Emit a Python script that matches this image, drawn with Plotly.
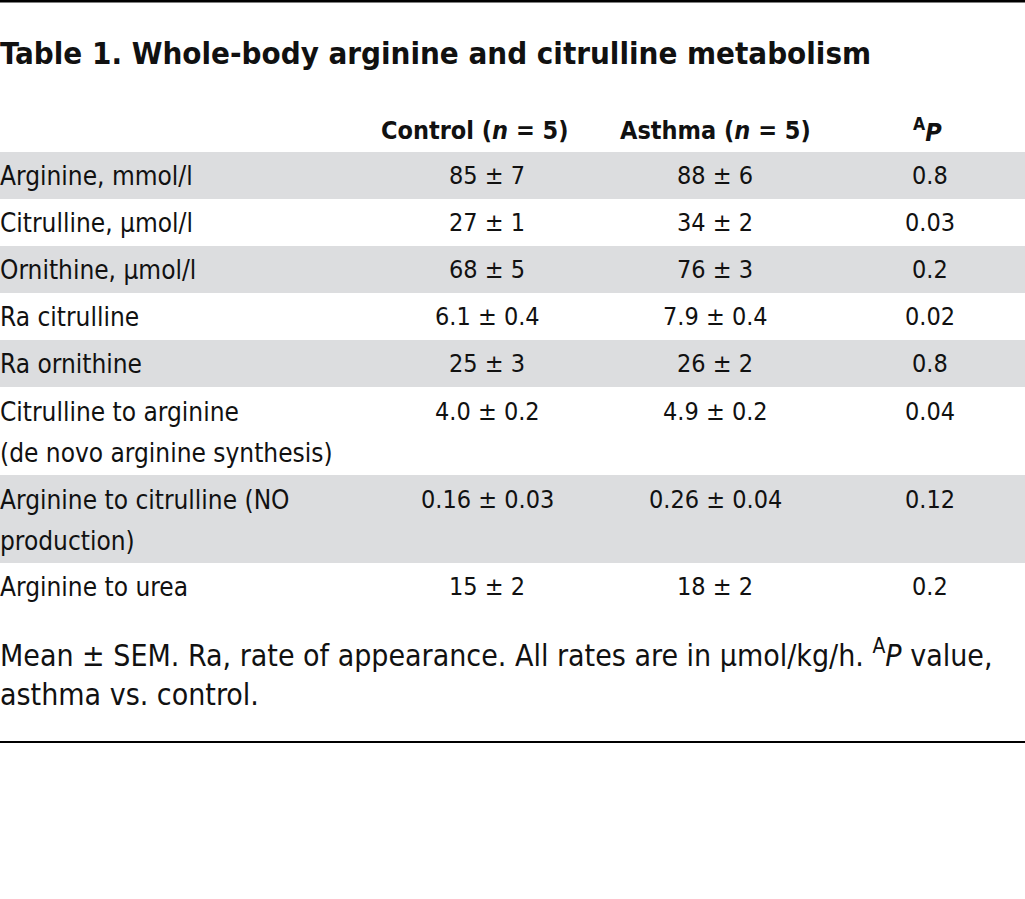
import plotly.graph_objects as go

# ---- data ----
title_text = "Table 1. Whole-body arginine and citrulline metabolism"
col_headers = ["Control (<i>n</i> = 5)", "Asthma (<i>n</i> = 5)", "<sup>A</sup><i>P</i>"]
row_labels = [
    ["Arginine, mmol/l"],
    ["Citrulline, μmol/l"],
    ["Ornithine, μmol/l"],
    ["Ra citrulline"],
    ["Ra ornithine"],
    ["Citrulline to arginine", "(de novo arginine synthesis)"],
    ["Arginine to citrulline (NO", "production)"],
    ["Arginine to urea"],
]
control_mean = ["85", "27", "68", "6.1", "25", "4.0", "0.16", "15"]
control_sem = ["7", "1", "5", "0.4", "3", "0.2", "0.03", "2"]
asthma_mean = ["88", "34", "76", "7.9", "26", "4.9", "0.26", "18"]
asthma_sem = ["6", "2", "3", "0.4", "2", "0.2", "0.04", "2"]
p_values = ["0.8", "0.03", "0.2", "0.02", "0.8", "0.04", "0.12", "0.2"]
footnote_lines = [
    "Mean ± SEM. Ra, rate of appearance. All rates are in μmol/kg/h. <sup>A</sup><i>P</i> value,",
    "asthma vs. control.",
]

# ---- style / layout constants ----
W, H = 1025, 899
FONT = "'DejaVu Sans Condensed', 'Liberation Sans Narrow', Roboto, sans-serif"
LABEL_SIZE = 26
VALUE_SIZE = 25
HEAD_SIZE = 25
FOOT_SIZE = 30
GRAY = "#dcdddf"
INK = "#111111"
TABLE_TOP = 152
ROW_H = 47
LINE_H = 41
COL_X = [487, 715, 930]
HEAD_X = [475, 715, 927]

fig = go.Figure()
shapes = []
annotations = []

def txt(x, y, text, size, anchor="left", bold=False):
    annotations.append(dict(
        x=x, y=y, xref="x", yref="y", text=(f"<b>{text}</b>" if bold else text),
        showarrow=False, xanchor=anchor, yanchor="middle",
        xshift=(-2 if anchor == "left" else 0),
        font=dict(family=FONT, size=size, color=INK),
    ))

# top rule
shapes.append(dict(type="line", x0=0, x1=W, y0=1, y1=1, xref="x", yref="y",
                   line=dict(color="#000000", width=3)))
# title
txt(0, 53, title_text, size=31, bold=True)
# headers
for hx, h in zip(HEAD_X, col_headers):
    txt(hx, 130, h, size=HEAD_SIZE, anchor="center", bold=True)

# rows
top = TABLE_TOP
for i, lines in enumerate(row_labels):
    h = ROW_H + LINE_H * (len(lines) - 1)
    if i % 2 == 0:
        shapes.append(dict(type="rect", x0=0, x1=W, y0=top, y1=top + h, xref="x", yref="y",
                           fillcolor=GRAY, line=dict(width=0), layer="below"))
    first_y = top + ROW_H / 2 + (1 if len(lines) > 1 else 0)
    for j, ln in enumerate(lines):
        txt(0, first_y + j * LINE_H, ln, size=LABEL_SIZE)
    txt(COL_X[0], first_y, f"{control_mean[i]} ± {control_sem[i]}", size=VALUE_SIZE, anchor="center")
    txt(COL_X[1], first_y, f"{asthma_mean[i]} ± {asthma_sem[i]}", size=VALUE_SIZE, anchor="center")
    txt(COL_X[2], first_y, p_values[i], size=VALUE_SIZE, anchor="center")
    top += h

# footnote
for j, ln in enumerate(footnote_lines):
    txt(0, 653 + j * 41, ln, size=FOOT_SIZE)

# bottom rule
shapes.append(dict(type="line", x0=0, x1=W, y0=742, y1=742, xref="x", yref="y",
                   line=dict(color="#000000", width=2)))

fig.update_layout(
    width=W, height=H,
    margin=dict(l=0, r=0, t=0, b=0),
    paper_bgcolor="white", plot_bgcolor="white",
    xaxis=dict(range=[0, W], visible=False, fixedrange=True),
    yaxis=dict(range=[H, 0], visible=False, fixedrange=True),
    shapes=shapes, annotations=annotations, showlegend=False,
)
fig.write_html(
    "out.html",
    config={"displayModeBar": False},
    post_script="document.body.style.margin='0';document.body.style.overflow='hidden';",
)
